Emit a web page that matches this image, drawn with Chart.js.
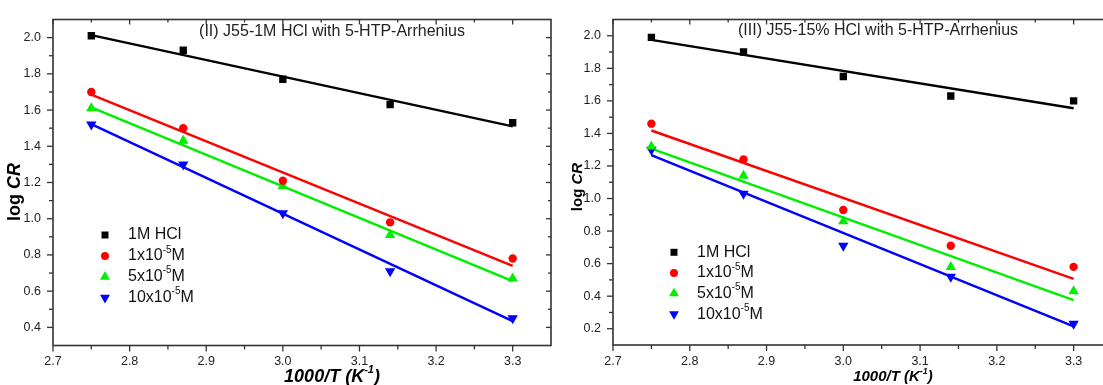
<!DOCTYPE html>
<html>
<head>
<meta charset="utf-8">
<title>J55 Arrhenius plots</title>
<script src="https://cdn.jsdelivr.net/npm/chart.js@4.4.1/dist/chart.umd.min.js"></script>
<style>
    html, body { margin: 0; padding: 0; background: #fff; overflow: hidden; }
    .panel { position: absolute; top: 0; width: 560px; height: 385px; }
    #leftPanel { left: 0; }
    #rightPanel { left: 560px; }
</style>
</head>
<body>
<div class="panel" id="leftPanel"><canvas id="leftChart" width="560" height="385"></canvas></div>
<div class="panel" id="rightPanel"><canvas id="rightChart" width="560" height="385"></canvas></div>
<script>
// 1000/T (K^-1), same temperatures in both panels
const invTemp = [2.75, 2.87, 3.0, 3.14, 3.3];

// Legend labels - the part between | is drawn as superscript
const seriesLabels = ['1M HCl', '1x10|-5|M', '5x10|-5|M', '10x10|-5|M'];

// (II) J55 - 1M HCl, log CR
const leftBlank = [2.01, 1.93, 1.77, 1.63, 1.53];
const leftC1 = [1.70, 1.50, 1.21, 0.98, 0.78];
const leftC5 = [1.61, 1.43, 1.18, 0.91, 0.67];
const leftC10 = [1.52, 1.30, 1.03, 0.71, 0.45];
// fitted line ends (at first and last 1000/T)
const leftFitStart = [2.014, 1.685, 1.615, 1.522];
const leftFitEnd = [1.510, 0.740, 0.655, 0.435];

// (III) J55 - 15% HCl, log CR
const rightBlank = [1.99, 1.90, 1.75, 1.63, 1.60];
const rightC1 = [1.46, 1.24, 0.93, 0.71, 0.58];
const rightC5 = [1.32, 1.14, 0.86, 0.58, 0.43];
const rightC10 = [1.30, 1.03, 0.71, 0.52, 0.23];
const rightFitStart = [1.975, 1.418, 1.307, 1.267];
const rightFitEnd = [1.555, 0.506, 0.375, 0.214];

// Tick labels
const xTicks = [2.7, 2.8, 2.9, 3.0, 3.1, 3.2, 3.3];
const leftYTicks = [0.4, 0.6, 0.8, 1.0, 1.2, 1.4, 1.6, 1.8, 2.0];
const rightYTicks = [0.2, 0.4, 0.6, 0.8, 1.0, 1.2, 1.4, 1.6, 1.8, 2.0];

// Styling
const seriesColors = ['#000000', '#ff0000', '#00ee00', '#0000ff'];
const markerStyles = ['rect', 'circle', 'triangle', 'triangle'];
const markerRotation = [0, 0, 0, 180];
const markerRadius = [5.2, 4.2, 6, 6];
const FONT = '"Liberation Sans", Arial, sans-serif';

// draws "base" + superscript + "tail"
function drawRichText(ctx, text, x, y, size, weight, align) {
    const parts = text.split('|');
    const mainFont = `${weight} ${size}px ${FONT}`;
    const supFont = `${weight} ${Math.round(size * 0.62)}px ${FONT}`;
    ctx.font = mainFont;
    let w = ctx.measureText(parts[0]).width;
    if (parts.length > 1) {
        ctx.font = supFont;
        w += ctx.measureText(parts[1]).width;
        ctx.font = mainFont;
        w += ctx.measureText(parts[2]).width;
    }
    let cx = align === 'center' ? x - w / 2 : x;
    ctx.textAlign = 'left';
    ctx.textBaseline = 'middle';
    ctx.font = mainFont;
    ctx.fillText(parts[0], cx, y);
    cx += ctx.measureText(parts[0]).width;
    if (parts.length > 1) {
        ctx.font = supFont;
        ctx.fillText(parts[1], cx, y - size * 0.38);
        cx += ctx.measureText(parts[1]).width;
        ctx.font = mainFont;
        ctx.fillText(parts[2], cx, y);
    }
}

// minor ticks halfway between the majors, inside the axis range
function minorTicks(majors, min, max) {
    const out = [];
    const step = majors[1] - majors[0];
    for (let i = 0; i < majors.length; i++) {
        [majors[i] - step / 2, majors[i] + step / 2].forEach(v => {
            if (v > min + 1e-6 && v < max - 1e-6 && !out.some(o => Math.abs(o - v) < 1e-6)) out.push(v);
        });
    }
    return out;
}

// Frame with Origin-style ticks, in-plot title, legend and axis titles
const panelDecor = {
    id: 'panelDecor',
    afterDraw(chart, args, opts) {
        const ctx = chart.ctx;
        const a = chart.chartArea;
        const xs = chart.scales.x;
        const ys = chart.scales.y;
        ctx.save();

        ctx.strokeStyle = '#333';
        ctx.lineWidth = 1.6;
        ctx.strokeRect(a.left, a.top, a.right - a.left, a.bottom - a.top);

        const line = (x1, y1, x2, y2) => {
            ctx.beginPath();
            ctx.moveTo(x1, y1);
            ctx.lineTo(x2, y2);
            ctx.stroke();
        };
        ctx.lineWidth = 1.3;
        xTicks.forEach(v => {
            const px = xs.getPixelForValue(v);
            line(px, a.bottom, px, a.bottom + 6);
            line(px, a.top, px, a.top + 5);
        });
        minorTicks(xTicks, xs.min, xs.max).forEach(v => {
            const px = xs.getPixelForValue(v);
            line(px, a.bottom, px, a.bottom + 4);
            line(px, a.top, px, a.top + 3);
        });
        opts.yTicks.forEach(v => {
            const py = ys.getPixelForValue(v);
            line(a.left - 6, py, a.left, py);
            line(a.right - 5, py, a.right, py);
        });
        minorTicks(opts.yTicks, ys.min, ys.max).forEach(v => {
            const py = ys.getPixelForValue(v);
            line(a.left - 4, py, a.left, py);
            line(a.right - 3, py, a.right, py);
        });

        // title inside the plot
        ctx.fillStyle = '#222';
        drawRichText(ctx, opts.title, opts.titleX, opts.titleY, 16, 'normal', 'center');

        // legend
        seriesLabels.forEach((label, i) => {
            const y = opts.legendY + i * opts.legendStep;
            ctx.fillStyle = seriesColors[i];
            Chart.helpers.drawPoint(ctx, {
                pointStyle: markerStyles[i],
                radius: markerRadius[i] * 0.95,
                rotation: markerRotation[i],
                borderWidth: 0
            }, opts.legendX, y);
            ctx.fillStyle = '#111';
            drawRichText(ctx, label, opts.legendTextX, y, 16, 'normal', 'left');
        });

        // y axis title: log CR
        const fs = opts.axisFont;
        ctx.fillStyle = '#000';
        ctx.translate(opts.yTitleX, opts.yTitleY);
        ctx.rotate(-Math.PI / 2);
        ctx.textBaseline = 'middle';
        ctx.textAlign = 'left';
        ctx.font = `bold ${fs}px ${FONT}`;
        const w1 = ctx.measureText('log ').width;
        ctx.font = `italic bold ${fs}px ${FONT}`;
        const w2 = ctx.measureText('CR').width;
        ctx.font = `bold ${fs}px ${FONT}`;
        ctx.fillText('log ', -(w1 + w2) / 2, 0);
        ctx.font = `italic bold ${fs}px ${FONT}`;
        ctx.fillText('CR', -(w1 + w2) / 2 + w1, 0);
        ctx.setTransform(1, 0, 0, 1, 0, 0);

        // x axis title: 1000/T (K^-1)
        drawRichText(ctx, '1000/T (K|-1|)', opts.xTitleX, opts.xTitleY, fs, 'italic bold', 'center');

        ctx.restore();
    }
};

function buildDatasets(series, fitStart, fitEnd) {
    const sets = [];
    series.forEach((vals, i) => {
        sets.push({
            label: seriesLabels[i].replace(/\|/g, ''),
            data: invTemp.map((x, j) => ({ x: x, y: vals[j] })),
            showLine: false,
            pointStyle: markerStyles[i],
            pointRotation: markerRotation[i],
            pointRadius: markerRadius[i],
            pointBackgroundColor: seriesColors[i],
            pointBorderWidth: 0
        });
    });
    series.forEach((vals, i) => {
        sets.push({
            label: 'fit ' + i,
            data: [
                { x: invTemp[0], y: fitStart[i] },
                { x: invTemp[invTemp.length - 1], y: fitEnd[i] }
            ],
            showLine: true,
            borderColor: seriesColors[i],
            borderWidth: 2.4,
            pointRadius: 0
        });
    });
    return sets;
}

function renderPanel(canvasId, datasets, yMin, yMax, yTicks, padRight, xAxisHeight, decor) {
    const el = document.getElementById(canvasId);
    const tickFont = { family: FONT, size: 12.5 };
    return new Chart(el, {
        type: 'scatter',
        data: { datasets: datasets },
        options: {
            responsive: false,
            animation: false,
            layout: { padding: { top: 14, right: padRight, left: 0, bottom: 0 } },
            scales: {
                x: {
                    type: 'linear',
                    min: 2.7,
                    max: 3.35,
                    grid: { display: false, drawTicks: false },
                    border: { display: false },
                    afterBuildTicks: s => { s.ticks = xTicks.map(v => ({ value: v })); },
                    afterFit: s => { s.height = xAxisHeight; },
                    ticks: {
                        padding: 9,
                        color: '#222',
                        font: tickFont,
                        autoSkip: false,
                        maxRotation: 0,
                        callback: v => v.toFixed(1)
                    }
                },
                y: {
                    type: 'linear',
                    min: yMin,
                    max: yMax,
                    grid: { display: false, drawTicks: false },
                    border: { display: false },
                    afterBuildTicks: s => { s.ticks = yTicks.map(v => ({ value: v })); },
                    afterFit: s => { s.width = 53; },
                    ticks: {
                        padding: 12,
                        color: '#222',
                        font: tickFont,
                        autoSkip: false,
                        callback: v => v.toFixed(1)
                    }
                }
            },
            plugins: {
                legend: { display: false },
                tooltip: { enabled: false },
                panelDecor: Object.assign({ yTicks: yTicks }, decor)
            }
        },
        plugins: [panelDecor]
    });
}

renderPanel('leftChart',
    buildDatasets([leftBlank, leftC1, leftC5, leftC10], leftFitStart, leftFitEnd),
    0.3, 2.1, leftYTicks, 9, 39.5, {
        title: '(II) J55-1M HCl with 5-HTP-Arrhenius',
        titleX: 332, titleY: 32,
        legendX: 105, legendY: 235, legendStep: 20.9, legendTextX: 128,
        yTitleX: 15.5, yTitleY: 192,
        xTitleX: 332, xTitleY: 377,
        axisFont: 18
    });

renderPanel('rightChart',
    buildDatasets([rightBlank, rightC1, rightC5, rightC10], rightFitStart, rightFitEnd),
    0.1, 2.1, rightYTicks, 8, 40, {
        title: '(III) J55-15% HCl with 5-HTP-Arrhenius',
        titleX: 318, titleY: 31,
        legendX: 114, legendY: 252.3, legendStep: 20.6, legendTextX: 137,
        yTitleX: 18, yTitleY: 187,
        xTitleX: 333, xTitleY: 377,
        axisFont: 15
    });
</script>
</body>
</html>
